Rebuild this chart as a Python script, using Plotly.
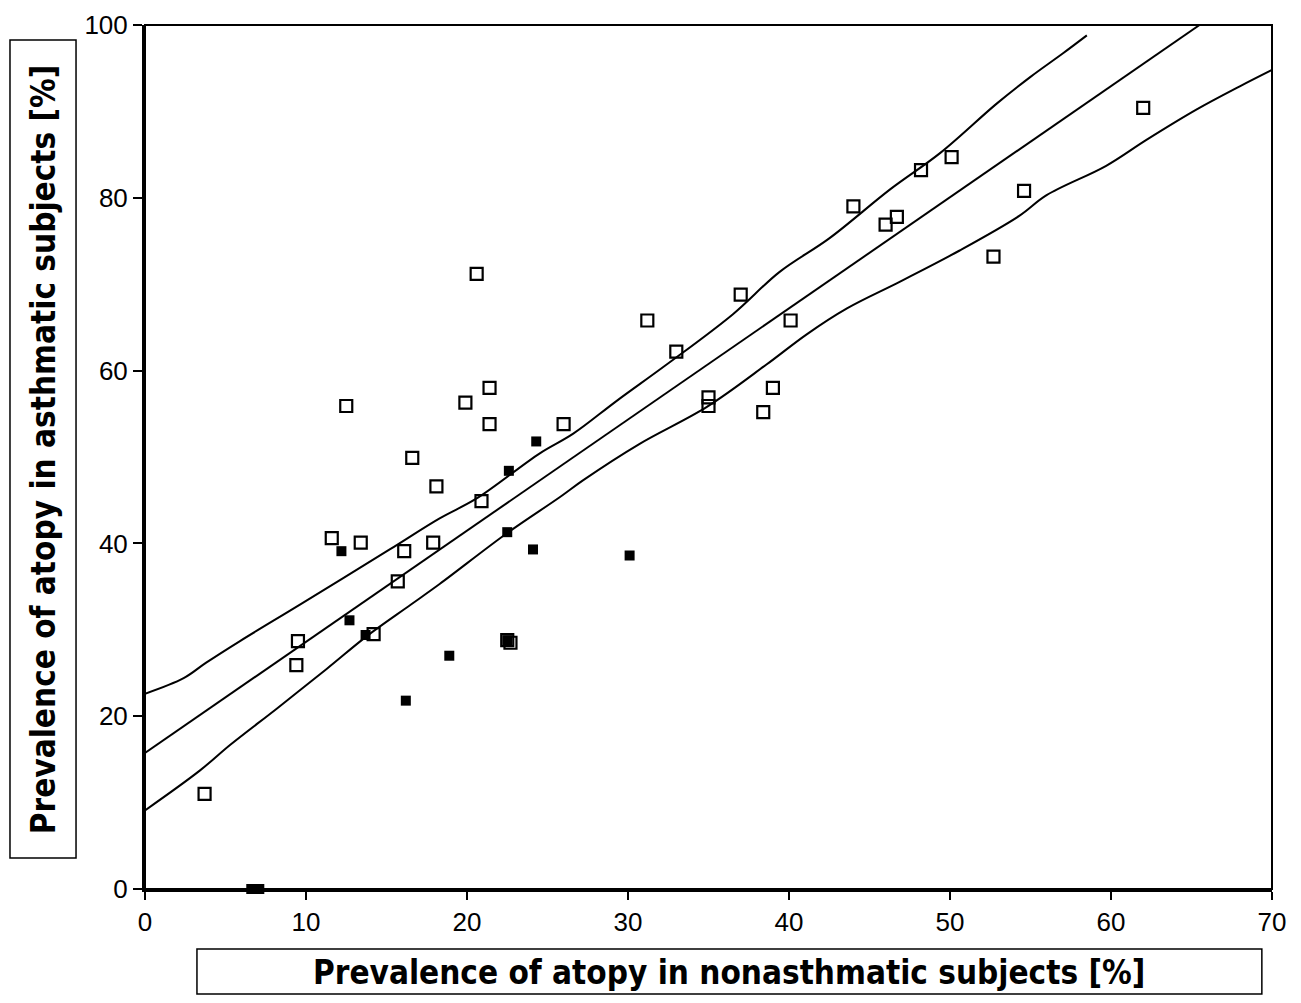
import plotly.graph_objects as go

# Open squares (asthmatic vs nonasthmatic prevalence)
open_x = [3.7, 9.4, 9.5, 11.6, 13.4, 12.5, 14.2, 15.7, 16.1, 16.6, 18.1, 17.9, 19.9, 20.6,
          20.9, 21.4, 21.4, 22.5, 22.7, 26.0, 31.2, 33.0, 35.0, 35.0, 37.0, 38.4, 39.0,
          40.1, 44.0, 46.0, 46.7, 48.2, 50.1, 52.7, 54.6, 62.0]
open_y = [11.0, 25.9, 28.7, 40.6, 40.1, 55.9, 29.5, 35.6, 39.1, 49.9, 46.6, 40.1, 56.3, 71.2,
          44.9, 53.8, 58.0, 28.8, 28.5, 53.8, 65.8, 62.2, 56.9, 55.9, 68.8, 55.2, 58.0,
          65.8, 79.0, 76.9, 77.8, 83.2, 84.7, 73.2, 80.8, 90.4]

# Filled squares
fill_x = [12.2, 12.7, 13.7, 16.2, 18.9, 22.6, 22.5, 24.3, 24.1, 30.1, 22.5, 6.6, 7.1]
fill_y = [39.1, 31.1, 29.4, 21.8, 27.0, 48.4, 41.3, 51.8, 39.3, 38.6, 28.8, 0.0, 0.0]

# Regression line end points
reg_x = [0, 65.5]
reg_y = [15.75, 100]

# Upper confidence curve
up_x = [0, 2.4, 3.8, 5.9, 9.7, 15.2, 18.3, 20.6, 24.5, 26.6, 29.3, 32.4, 36.5, 39.4,
        42.5, 46.3, 49.4, 52.9, 55.0, 57.0, 58.5]
up_y = [22.6, 24.4, 26.2, 28.7, 33.0, 39.3, 42.9, 45.2, 50.4, 52.7, 56.5, 60.7, 66.5, 71.4,
        75.3, 81.0, 85.2, 90.9, 94.0, 96.7, 98.8]

# Lower confidence curve
lo_x = [0, 3.4, 5.3, 8.2, 11.3, 13.8, 16.5, 18.3, 22.5, 25.8, 27.2, 30.7, 34.9, 38.6,
        41.1, 43.6, 46.9, 50.6, 54.3, 56.0, 59.7, 62.2, 65.3, 68.0, 70.0]
lo_y = [9.1, 13.7, 16.7, 20.9, 25.5, 29.3, 32.9, 35.3, 41.2, 45.4, 47.3, 51.5, 55.8, 60.7,
        64.2, 67.2, 70.3, 73.9, 77.9, 80.3, 83.7, 86.7, 90.2, 92.9, 94.8]

x_ticks = [0, 10, 20, 30, 40, 50, 60, 70]
y_ticks = [0, 20, 40, 60, 80, 100]

x_title = "Prevalence of atopy in nonasthmatic subjects [%]"
y_title = "Prevalence of atopy in asthmatic subjects [%]"

line_style = dict(color="black", width=2)

fig = go.Figure()
for xs, ys in [(up_x, up_y), (reg_x, reg_y), (lo_x, lo_y)]:
    fig.add_trace(go.Scatter(x=xs, y=ys, mode="lines", line=dict(shape="spline", **line_style),
                             hoverinfo="skip", showlegend=False))

fig.add_trace(go.Scatter(x=fill_x, y=fill_y, mode="markers", cliponaxis=False,
                         marker=dict(symbol="square", size=10, color="black",
                                     line=dict(color="black", width=0)),
                         showlegend=False))
fig.add_trace(go.Scatter(x=open_x, y=open_y, mode="markers", cliponaxis=False,
                         marker=dict(symbol="square-open", size=12, color="black",
                                     line=dict(color="black", width=2.2)),
                         showlegend=False))

tick_font = dict(family="Liberation Sans, Arial, sans-serif", size=26, color="black")
fig.update_xaxes(range=[0, 70], tickvals=x_ticks, ticktext=[str(v) for v in x_ticks],
                 showgrid=False, zeroline=False, showline=True, linecolor="black", linewidth=3,
                 ticks="outside", ticklen=8, tickwidth=2, tickcolor="black", tickfont=tick_font,
                 ticklabeloverflow="allow", automargin=False)
fig.update_yaxes(range=[0, 100], tickvals=y_ticks, ticktext=[str(v) for v in y_ticks],
                 showgrid=False, zeroline=False, showline=True, linecolor="black", linewidth=3,
                 ticks="outside", ticklen=9, tickwidth=2, tickcolor="black", tickfont=tick_font,
                 ticklabeloverflow="allow", automargin=False)

# plot border (top/right thinner)
fig.add_shape(type="rect", xref="paper", yref="paper", x0=0, y0=0, x1=1, y1=1,
              line=dict(color="black", width=2), layer="above")

title_font = dict(family="DejaVu Sans Condensed, Liberation Sans Narrow, Arial Narrow, DejaVu Sans, sans-serif",
                  size=33, color="black")
# title boxes
fig.add_shape(type="rect", xref="paper", yref="paper", x0=-0.1198, x1=-0.0612, y0=0.0359, y1=0.9826,
              line=dict(color="black", width=1.5))
fig.add_shape(type="rect", xref="paper", yref="paper", x0=0.0461, x1=0.991, y0=-0.1215, y1=-0.0694,
              line=dict(color="black", width=1.5))
fig.add_annotation(xref="paper", yref="paper", x=-0.0905, y=0.509, text="<b>" + y_title + "</b>",
                   textangle=-90, showarrow=False, font=title_font, xanchor="center", yanchor="middle")
fig.add_annotation(xref="paper", yref="paper", x=0.5185, y=-0.0961, text="<b>" + x_title + "</b>",
                   showarrow=False, font=title_font, xanchor="center", yanchor="middle")

fig.update_layout(width=1285, height=987, margin=dict(l=137, r=21, t=17, b=106),
                  plot_bgcolor="white", paper_bgcolor="white")

fig.write_html("out.html")
